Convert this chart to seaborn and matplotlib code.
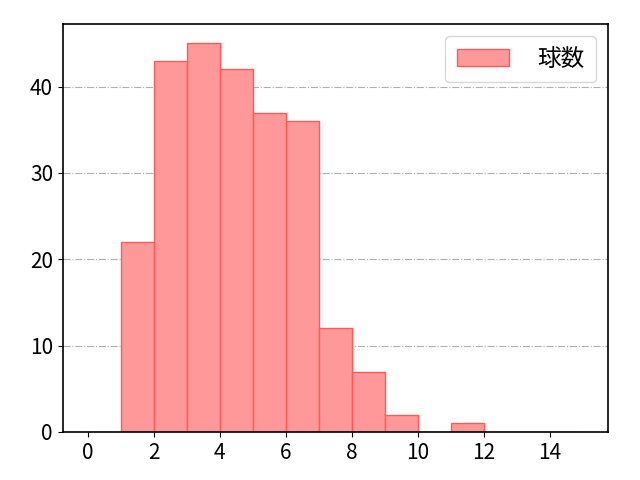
import numpy as np
import pandas as pd
import matplotlib
matplotlib.use("Agg")
import matplotlib.pyplot as plt
import seaborn as sns

# pitch counts per bin (bin left edges)
bin_left = [1, 2, 3, 4, 5, 6, 7, 8, 9, 10, 11]
counts = [22, 43, 45, 42, 37, 36, 12, 7, 2, 0, 1]
label = "球数"

plt.rcParams['font.family'] = ['Noto Sans CJK JP', 'DejaVu Sans']

df = pd.DataFrame({'x': np.array(bin_left) + 0.5, 'n': counts})

fig, ax = plt.subplots(figsize=(6.4, 4.8), dpi=100)
sns.histplot(data=df, x='x', weights='n', binwidth=1, binrange=(0, 15), ax=ax,
             color='#ff9999', alpha=1, edgecolor='#ff5a5a', linewidth=1,
             label=label)
ax.set_xlabel('')
ax.set_ylabel('')
ax.set_xticks([0, 2, 4, 6, 8, 10, 12, 14])
ax.set_yticks([0, 10, 20, 30, 40])
ax.tick_params(labelsize=15)
ax.grid(axis='y', linestyle='-.', color='#b0b0b0')
ax.set_axisbelow(True)
for s in ax.spines.values():
    s.set_linewidth(1.2)
ax.legend(fontsize=17, loc='upper right', handlelength=2.2, handletextpad=1.2,
          borderpad=0.5)
plt.subplots_adjust(left=0.098, right=0.95, bottom=0.1, top=0.95)
plt.savefig('out.png')
